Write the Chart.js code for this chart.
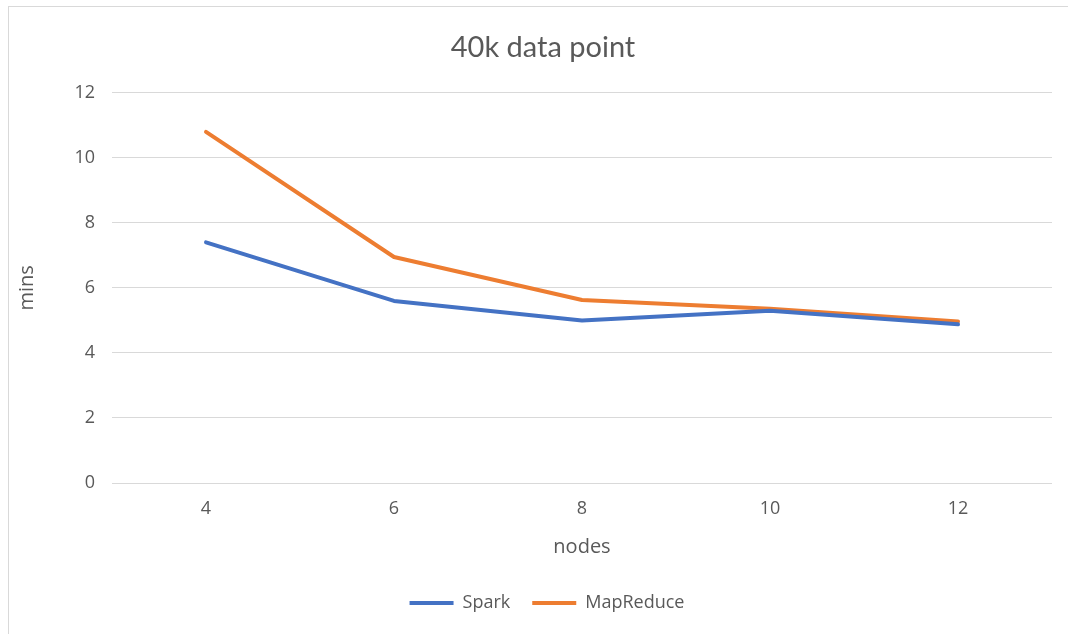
<!DOCTYPE html>
<html>
<head>
<meta charset="utf-8">
<script src="https://cdn.jsdelivr.net/npm/chart.js@4.4.0/dist/chart.umd.min.js"></script>
<style>
    html, body { margin: 0; padding: 0; background: #ffffff; }
    #frame {
        position: absolute;
        left: 8px;
        top: 6px;
        width: 1080px;
        height: 640px;
        border: 1px solid #d9d9d9;
    }
    #wrap {
        position: absolute;
        left: 0;
        top: 0;
        width: 1068px;
        height: 634px;
    }
</style>
</head>
<body>
<div id="frame"></div>
<div id="wrap"><canvas id="nodesChart"></canvas></div>
<script>
const nodes = ['4', '6', '8', '10', '12'];
const sparkMins = [7.4, 5.6, 5.0, 5.3, 4.88];
const mapReduceMins = [10.8, 6.95, 5.63, 5.36, 4.97];
const yTicks = [0, 2, 4, 6, 8, 10, 12];

const textColor = '#595959';
const gridColor = '#d9d9d9';

// the excel frame is wider than the screenshot, so title and legend sit a bit right of centre
const shiftBoxes = {
    id: 'shiftBoxes',
    afterLayout: function (chart) {
        if (chart.titleBlock) {
            chart.titleBlock.left += 17;
            chart.titleBlock.right += 17;
        }
        if (chart.legend) {
            chart.legend.left += 21;
            chart.legend.right += 21;
        }
    }
};

const ctx = document.getElementById('nodesChart');

new Chart(ctx, {

    type: 'line',

    data: {
        labels: nodes,
        datasets: [
            {
                label: 'Spark',
                data: sparkMins,
                borderColor: '#4472c4',
                backgroundColor: '#4472c4',
                borderWidth: 4,
                borderCapStyle: 'round',
                borderJoinStyle: 'round',
                pointRadius: 0,
                tension: 0
            },
            {
                label: 'MapReduce',
                data: mapReduceMins,
                borderColor: '#ed7d31',
                backgroundColor: '#ed7d31',
                borderWidth: 4,
                borderCapStyle: 'round',
                borderJoinStyle: 'round',
                pointRadius: 0,
                tension: 0
            }
        ]
    },

    plugins: [shiftBoxes],

    options: {

        responsive: true,
        maintainAspectRatio: false,
        animation: false,

        layout: {
            padding: { left: 0, right: 16, top: 0, bottom: 12 }
        },

        plugins: {

            title: {
                display: true,
                text: '40k data point',
                color: textColor,
                font: { family: 'Lato', size: 29, weight: 'normal' },
                padding: { top: 30, bottom: 28 }
            },

            legend: {
                position: 'bottom',
                labels: {
                    color: textColor,
                    font: { family: 'Open Sans', size: 18 },
                    usePointStyle: true,
                    pointStyle: 'line',
                    pointStyleWidth: 44,
                    padding: 22
                }
            },

            tooltip: { enabled: false }

        },

        scales: {

            x: {
                offset: true,
                grid: { display: false },
                border: { display: false },
                ticks: {
                    color: textColor,
                    font: { family: 'Open Sans', size: 18 },
                    padding: 7
                },
                title: {
                    display: true,
                    text: 'nodes',
                    color: textColor,
                    font: { family: 'Open Sans', size: 20 },
                    padding: { top: 4, bottom: 13 }
                },
                afterFit: function (scale) {
                    scale.height = 89;
                }
            },

            y: {
                min: 0,
                max: 12,
                afterBuildTicks: function (scale) {
                    scale.ticks = yTicks.map(function (v) { return { value: v }; });
                },
                grid: {
                    color: gridColor,
                    lineWidth: 1,
                    drawTicks: false
                },
                border: { display: false },
                ticks: {
                    color: textColor,
                    font: { family: 'Open Sans', size: 18 },
                    padding: 17
                },
                title: {
                    display: true,
                    text: 'mins',
                    color: textColor,
                    font: { family: 'Open Sans', size: 20 },
                    padding: { top: 15, bottom: 4 }
                },
                afterFit: function (scale) {
                    scale.width = 112;
                }
            }

        }

    }

});
</script>
</body>
</html>
